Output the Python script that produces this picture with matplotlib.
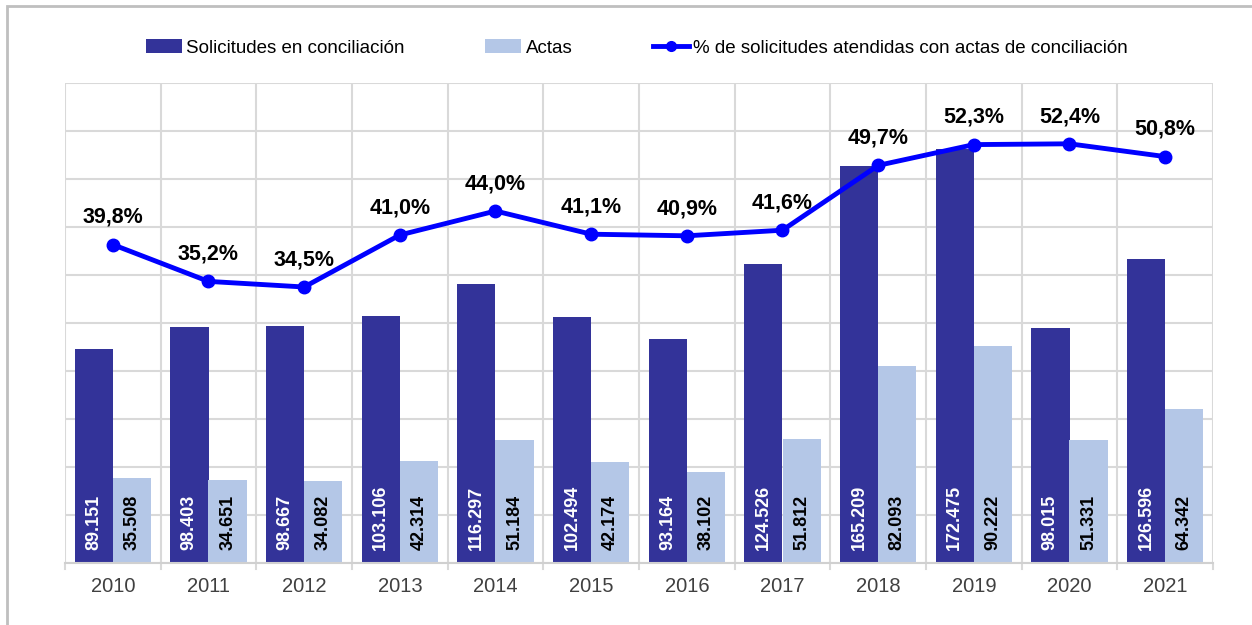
import matplotlib
matplotlib.use("Agg")
import matplotlib.pyplot as plt
from matplotlib.lines import Line2D
from matplotlib.patches import Patch, Rectangle

years = ["2010", "2011", "2012", "2013", "2014", "2015", "2016", "2017", "2018", "2019", "2020", "2021"]
solicitudes = [89151, 98403, 98667, 103106, 116297, 102494, 93164, 124526, 165209, 172475, 98015, 126596]
actas = [35508, 34651, 34082, 42314, 51184, 42174, 38102, 51812, 82093, 90222, 51331, 64342]
porcentaje = [39.8, 35.2, 34.5, 41.0, 44.0, 41.1, 40.9, 41.6, 49.7, 52.3, 52.4, 50.8]

DARK = "#333399"
LIGHT = "#B4C7E7"
LINE = "#0000FF"
GRID = "#D9D9D9"
FONT = ["Liberation Sans", "DejaVu Sans"]

def fmt_thousands(v):
    return f"{v:,}".replace(",", ".")

fig = plt.figure(figsize=(12.52, 6.25), dpi=100)
fig.patches.append(Rectangle((7 / 1252, -0.05), 1.1, 1.05 - 6 / 625,
                             transform=fig.transFigure, fill=False,
                             edgecolor="#BFBFBF", linewidth=2))

ax = fig.add_axes([65 / 1252, 1 - 563 / 625, (1213 - 65) / 1252, 480 / 625])
x = list(range(len(years)))
w = 0.40
ax.bar([i - 0.2 for i in x], solicitudes, width=w, color=DARK, zorder=2)
ax.bar([i + 0.2 for i in x], actas, width=w, color=LIGHT, zorder=2)
ax.set_xlim(-0.5, len(years) - 0.5)
ax.set_ylim(0, 200000)
ax.set_yticks(range(0, 200001, 20000))
ax.yaxis.grid(True, color=GRID, linewidth=1.5, zorder=0)
for b in [i - 0.5 for i in range(len(years) + 1)]:
    ax.axvline(b, color=GRID, linewidth=1.5, zorder=0)
ax.set_axisbelow(True)
ax.set_xticks(x)
ax.set_xticklabels(years, fontsize=14.5, color="#404040", family=FONT)
ax.tick_params(axis="x", length=0, pad=10)
for s in ["top", "right", "left"]:
    ax.spines[s].set_visible(False)
ax.spines["bottom"].set_color("#D0D0D0")
ax.spines["bottom"].set_linewidth(1.5)
for b in [i - 0.5 for i in range(len(years) + 1)]:
    ax.plot([b, b], [0, -2500], color=GRID, linewidth=1.5, clip_on=False, zorder=1)

for i in x:
    ax.annotate(fmt_thousands(solicitudes[i]), (i - 0.2, 0), xytext=(0, 9),
                textcoords="offset points", rotation=90, ha="center", va="bottom",
                color="white", fontsize=13, fontweight="bold", family=FONT)
    ax.annotate(fmt_thousands(actas[i]), (i + 0.2, 0), xytext=(0, 9),
                textcoords="offset points", rotation=90, ha="center", va="bottom",
                color="black", fontsize=13, fontweight="bold", family=FONT)

ax2 = ax.twinx()
ax2.set_ylim(0, 60)
ax2.plot(x, porcentaje, color=LINE, linewidth=3.5, marker="o", markersize=9, zorder=5)
ax2.axis("off")
ax.tick_params(axis="y", left=False, right=False, labelleft=False, labelright=False)
for i in x:
    ax2.annotate(f"{porcentaje[i]:.1f}%".replace(".", ","), (i, porcentaje[i]),
                 xytext=(0, 12), textcoords="offset points", ha="center", va="bottom",
                 fontsize=15.5, fontweight="bold", color="black", family=FONT)

handles = [Patch(facecolor=DARK), Patch(facecolor=LIGHT),
           Line2D([0], [0], color=LINE, linewidth=3.5, marker="o", markersize=7)]
labels = ["Solicitudes en conciliación", "Actas", "% de solicitudes atendidas con actas de conciliación"]
fig.legend(handles, labels, loc="center left", bbox_to_anchor=(146 / 1252, 1 - 48 / 625),
           ncol=3, frameon=False, prop={"family": FONT, "size": 13.5},
           handlelength=1.9, handleheight=0.75, handletextpad=0.25, columnspacing=4.3,
           borderpad=0, borderaxespad=0)

fig.savefig("out.png", dpi=100)
